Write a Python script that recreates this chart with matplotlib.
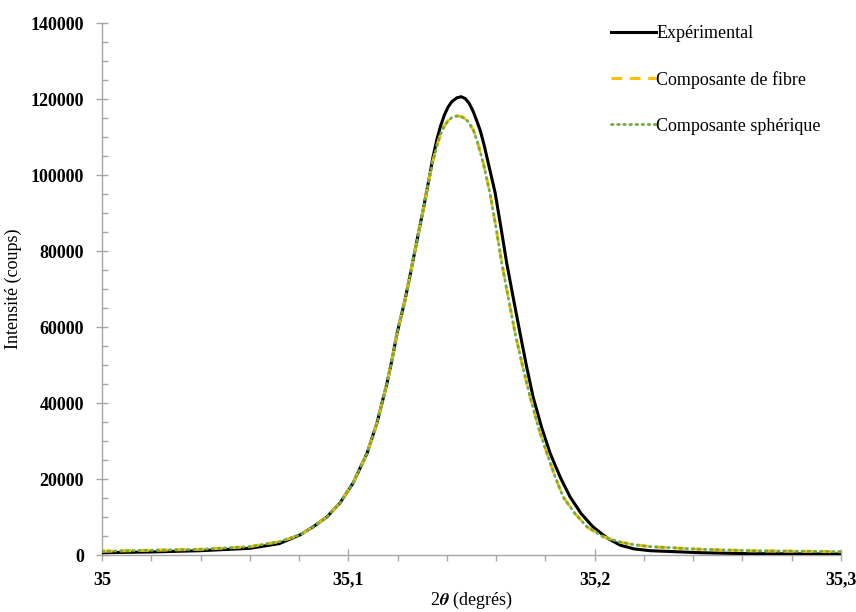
import matplotlib
matplotlib.use('Agg')
import matplotlib.pyplot as plt
from matplotlib.ticker import MultipleLocator, FuncFormatter

# values
x_exp = [35.000, 35.020, 35.040, 35.060, 35.072, 35.0804, 35.0857, 35.0913, 35.0966,
         35.1019, 35.1076, 35.1116, 35.1157, 35.1178, 35.1198, 35.1230, 35.1255,
         35.1279, 35.1300, 35.1319, 35.1332, 35.1344, 35.1360, 35.1375, 35.1390,
         35.1405, 35.1420, 35.1440, 35.1458, 35.1475, 35.1490, 35.1505, 35.1520,
         35.1535, 35.1550, 35.1565, 35.1580, 35.1596, 35.1620, 35.1643, 35.1670,
         35.1697, 35.1723, 35.1750, 35.1785, 35.1819, 35.1860, 35.1900, 35.1945,
         35.1993, 35.2050, 35.2103, 35.2160, 35.2225, 35.2430, 35.2630, 35.3000]
y_exp = [600, 800, 1130, 1760, 3000, 5300, 7400, 10000, 13700,
         18900, 26800, 34700, 45200, 51600, 58400, 67100, 75000,
         82900, 89600, 96000, 100500, 104800, 109500, 113000, 115800,
         117900, 119300, 120300, 120600, 120100, 118900, 117000, 114500,
         111800, 108200, 104000, 99800, 95300, 86000, 76800, 67500,
         58400, 49800, 41600, 33500, 26800, 20500, 15300, 10900,
         7400, 4500, 2600, 1600, 1130, 600, 350, 260]

x_fibre = [35.000, 35.020, 35.040, 35.060, 35.072, 35.0804, 35.0857, 35.0913, 35.0966,
           35.1019, 35.1076, 35.1116, 35.1157, 35.1178, 35.1198, 35.1230, 35.1255,
           35.1279, 35.1300, 35.1319, 35.1332, 35.1344, 35.1360, 35.1375, 35.1390,
           35.1405, 35.1420, 35.1438, 35.1453, 35.1470, 35.1487, 35.1508, 35.1528,
           35.1548, 35.1575, 35.1600, 35.1623, 35.1650, 35.1677, 35.1707, 35.1738,
           35.1772, 35.1806, 35.1840, 35.1872, 35.1920, 35.1969, 35.2035, 35.2103,
           35.2160, 35.2225, 35.2430, 35.2630, 35.3000]
y_fibre = [1000, 1250, 1500, 2200, 3500, 5300, 7400, 10000, 13700,
           18900, 26800, 34700, 45200, 51600, 58400, 67100, 75000,
           82900, 89600, 96000, 100200, 103800, 107800, 110800, 112900,
           114300, 115100, 115500, 115500, 115000, 114000, 111800, 107800,
           103100, 95200, 86000, 76800, 67500, 58400, 49800, 41600,
           33500, 26800, 20500, 15300, 10900, 7400, 4800, 3400,
           2700, 2200, 1500, 1130, 870]

x_sph = list(x_fibre)
y_sph = list(y_fibre)

plt.rcParams['font.family'] = ['Liberation Serif', 'DejaVu Serif']
plt.rcParams['mathtext.fontset'] = 'stix'

fig = plt.figure(figsize=(8.56, 6.12), dpi=100)
ax = fig.add_axes([102 / 856, 1 - 555 / 612, 739 / 856, 532 / 612])

ax.plot(x_exp, y_exp, color='black', lw=2.2, label='Expérimental', zorder=3)
ax.plot(x_fibre, y_fibre, color='#FFC000', lw=2.2, ls=(0, (3.5, 2.5)),
        label='Composante de fibre', zorder=4)
ax.plot(x_sph, y_sph, color='#70AD47', lw=2.0, ls=(0, (0.6, 1.6)),
        dash_capstyle='round', label='Composante sphérique', zorder=5)

ax.set_xlim(35, 35.3)
ax.set_ylim(0, 140000)
ax.xaxis.set_major_locator(MultipleLocator(0.1))
ax.xaxis.set_minor_locator(MultipleLocator(0.02))
ax.yaxis.set_major_locator(MultipleLocator(20000))
ax.yaxis.set_minor_locator(MultipleLocator(5000))
ax.xaxis.set_major_formatter(FuncFormatter(
    lambda v, p: ('%g' % round(v, 2)).replace('.', ',')))
ax.yaxis.set_major_formatter(FuncFormatter(lambda v, p: '%d' % v))

for s in ['top', 'right']:
    ax.spines[s].set_visible(False)
for s in ['left', 'bottom']:
    ax.spines[s].set_color('#A6A6A6')
    ax.spines[s].set_linewidth(1.0)

ax.tick_params(axis='both', which='major', direction='inout', length=8,
               width=1, color='#A6A6A6', labelsize=13)
ax.tick_params(axis='x', which='minor', direction='out', length=4,
               width=1, color='#A6A6A6')
ax.tick_params(axis='y', which='minor', direction='in', length=4,
               width=1, color='#A6A6A6')
ax.tick_params(axis='x', which='major', pad=8)
ax.tick_params(axis='y', which='major', pad=9)
for lab in ax.get_xticklabels() + ax.get_yticklabels():
    lab.set_fontweight('bold')

ax.set_xlabel('2$\\boldsymbol{\\theta}$ (degrés)', fontsize=13, labelpad=1)
ax.set_ylabel('Intensité (coups)', fontsize=13, labelpad=6)

ax.legend(loc='upper left', bbox_to_anchor=(611 / 856, 1 - 25 / 612),
          bbox_transform=fig.transFigure, frameon=False, fontsize=13,
          handlelength=2.5, handletextpad=0.0, labelspacing=1.6,
          borderpad=0, borderaxespad=0)

fig.savefig('out.png', dpi=100)
